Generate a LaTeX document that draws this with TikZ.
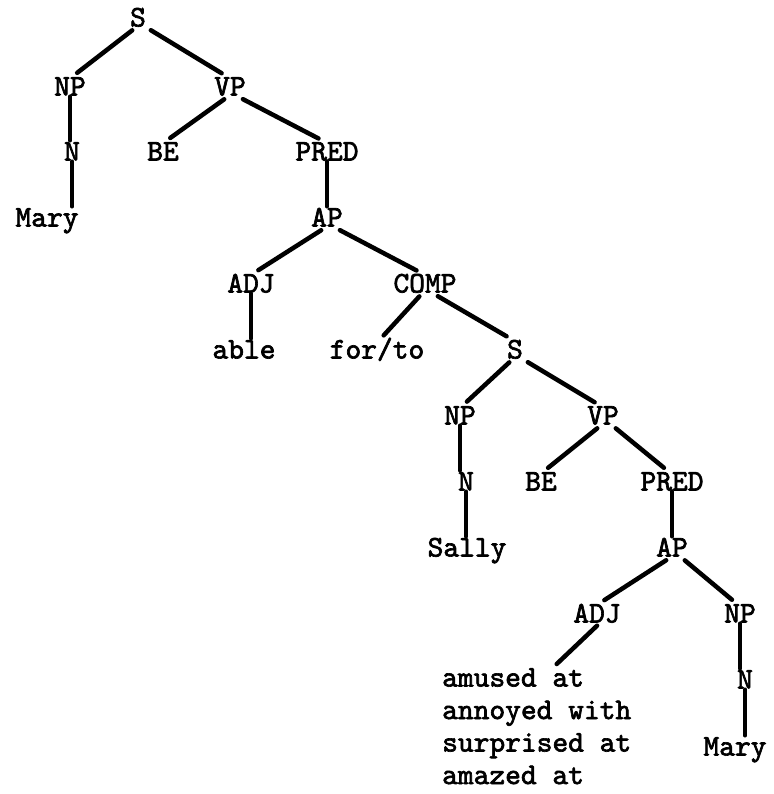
\documentclass[tikz,border=0pt]{standalone}
\usepackage{fontspec}
\newfontfamily\tw{lmmono10-regular.otf}[FakeBold=2.2]
\usetikzlibrary{calc}
\begin{document}
\begin{tikzpicture}[x=1pt,y=-1pt,
  lab/.style={font=\tw\fontsize{30}{32.5}\selectfont, inner sep=3pt, text height=17pt, text depth=0pt},
  br/.style={line width=4.5pt, line cap=round}]
\useasboundingbox (0,0) rectangle (773,794);
\node[lab] (s1) at (138,18) {S};
\node[lab] (np1) at (70,87) {NP};
\node[lab] (vp1) at (230,87) {VP};
\node[lab] (n1) at (72,152) {N};
\node[lab] (be1) at (163,152) {BE};
\node[lab] (pred1) at (327,152) {PRED};
\node[lab] (mary1) at (47,218) {Mary};
\node[lab] (ap1) at (327,218) {AP};
\node[lab] (adj1) at (251,284) {ADJ};
\node[lab] (comp) at (425,284) {COMP};
\node[lab] (able) at (244,350) {able};
\node[lab] (forto) at (377,350) {for/to};
\node[lab] (s2) at (515,350) {S};
\node[lab] (np2) at (460,416) {NP};
\node[lab] (vp2) at (603,416) {VP};
\node[lab] (n2) at (466,482) {N};
\node[lab] (be2) at (541,482) {BE};
\node[lab] (pred2) at (672,482) {PRED};
\node[lab] (sally) at (467,548) {Sally};
\node[lab] (ap2) at (672,548) {AP};
\node[lab] (adj2) at (597,614) {ADJ};
\node[lab] (np3) at (740,614) {NP};
\node[lab] (n3) at (745,680) {N};
\node[lab] (mary3) at (735,747) {Mary};
\node[font=\tw\fontsize{30}{32.5}\selectfont, inner sep=0pt, align=left, anchor=north west] (words) at (442,668)
  {amused at\\annoyed with\\surprised at\\amazed at};
% left branches
\foreach \a/\b in {s1/np1,vp1/be1,ap1/adj1,comp/forto,s2/np2,vp2/be2,ap2/adj2}
  \draw[br, shorten <=1pt, shorten >=4pt] ($(\a.south)+(-5,0)$) -- ($(\b.north)+(4,0)$);
% right branches
\foreach \a/\b in {s1/vp1,vp1/pred1,ap1/comp,comp/s2,s2/vp2,vp2/pred2,ap2/np3}
  \draw[br, shorten <=1pt, shorten >=4pt] ($(\a.south)+(12,0)$) -- ($(\b.north)+(-5,0)$);
% unary branches
\foreach \a/\b in {np1/n1,n1/mary1,adj1/able,np2/n2,n2/sally,np3/n3,n3/mary3,pred1/ap1,pred2/ap2}
  \draw[br, shorten <=-2pt] (\a.south) -- (\a.south |- \b.north);
\draw[br] (adj2.south) -- ($(words.north)+(20,-4)$);
\end{tikzpicture}
\end{document}
